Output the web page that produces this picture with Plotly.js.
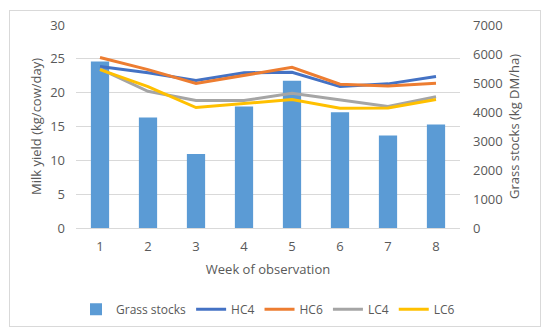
<!DOCTYPE html>
<html>
<head>
<meta charset="utf-8">
<script src="https://cdn.plot.ly/plotly-3.0.1.min.js"></script>
<style>
html,body{margin:0;padding:0;background:#fff;}
#frame{position:absolute;left:9px;top:10px;width:532px;height:317px;border:1px solid #d9d9d9;box-sizing:border-box;}
#chart{position:absolute;left:0;top:0;width:550px;height:336px;}
</style>
</head>
<body>
<div id="frame"></div>
<div id="chart"></div>
<script>
var weeks = ['1','2','3','4','5','6','7','8'];
var grassStocks = [5740, 3810, 2550, 4190, 5080, 3990, 3190, 3570];
var hc4 = [23.85, 22.95, 21.8, 22.95, 23.0, 20.9, 21.3, 22.4];
var hc6 = [25.2, 23.4, 21.35, 22.6, 23.75, 21.25, 21.0, 21.4];
var lc4 = [23.5, 20.2, 18.85, 18.85, 19.9, 18.9, 17.95, 19.4];
var lc6 = [23.4, 20.9, 17.8, 18.4, 19.0, 17.7, 17.75, 19.0];

var font = {family: 'Open Sans, Liberation Sans, sans-serif', size: 13, color: '#595959'};
var legFont = {family: 'Open Sans, Liberation Sans, sans-serif', size: 12, color: '#595959'};

function line(name, y, color) {
  return {type: 'scatter', mode: 'lines', name: name, x: weeks, y: y, yaxis: 'y2',
          line: {color: color, width: 3}};
}

var data = [
  {type: 'bar', name: 'Grass stocks', x: weeks, y: grassStocks, yaxis: 'y',
   marker: {color: '#5B9BD5'}},
  line('HC4', hc4, '#4472C4'),
  line('HC6', hc6, '#ED7D31'),
  line('LC4', lc4, '#A5A5A5'),
  line('LC6', lc6, '#FFC000')
];

var layout = {
  width: 550, height: 336,
  paper_bgcolor: 'rgba(0,0,0,0)', plot_bgcolor: 'rgba(0,0,0,0)',
  margin: {l: 76, r: 90, t: 25, b: 108},
  font: font,
  showlegend: true,
  bargap: 0.62,
  legend: {orientation: 'h', x: 0.5, xanchor: 'center', y: -0.40, yanchor: 'middle',
           font: legFont, itemwidth: 30},
  xaxis: {type: 'category', showgrid: false, zeroline: false, showline: false,
          ticks: '', tickfont: font, ticklabelstandoff: 9,
          title: {text: 'Week of observation', font: font, standoff: 10}},
  yaxis: {side: 'right', range: [0, 7000], dtick: 1000, showgrid: false, zeroline: false,
          tickfont: font, ticks: '', ticklabelstandoff: 12,
          title: {text: 'Grass stocks (kg DM/ha)', font: font, standoff: 8}},
  yaxis2: {side: 'left', overlaying: 'y', range: [0, 30], dtick: 5,
           showgrid: true, gridcolor: '#d9d9d9', gridwidth: 1,
           zeroline: true, zerolinecolor: '#d9d9d9', zerolinewidth: 1,
           tickfont: font, ticks: '', ticklabelstandoff: 10,
           title: {text: 'Milk yield (kg/cow/day)', font: font, standoff: 5}}
};

Plotly.newPlot('chart', data, layout, {displayModeBar: false, staticPlot: true});
</script>
</body>
</html>
